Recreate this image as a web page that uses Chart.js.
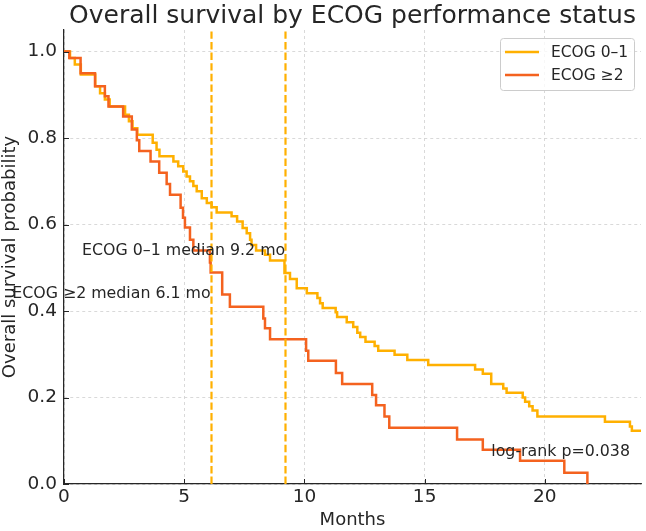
<!DOCTYPE html>
<html>
<head>
<meta charset="utf-8">
<script src="https://cdn.jsdelivr.net/npm/chart.js@4"></script>
<style>
  html, body { margin: 0; padding: 0; background: #fff; }
</style>
</head>
<body>
<canvas id="km" width="646" height="531"></canvas>
<script>
// groups and Kaplan-Meier steps (time in months, survival after the drop)
const groups = ["ECOG 0–1", "ECOG ≥2"];

const ecog01Time = [0, 0.25, 0.45, 0.7, 1.3, 1.5, 1.7, 1.9, 2.54, 2.7, 2.85, 3.05, 3.69, 3.85, 3.97,
  4.55, 4.75, 4.96, 5.1, 5.24, 5.38, 5.52, 5.73, 5.94, 6.14, 6.35, 6.97, 7.2, 7.43, 7.6, 7.74, 7.8,
  7.99, 8.36, 8.57, 9.17, 9.4, 9.68, 10.1, 10.54, 10.65, 10.76, 11.3, 11.36, 11.76, 12.03, 12.2,
  12.32, 12.54, 12.92, 13.07, 13.75, 14.28, 15.15, 17.1, 17.42, 17.77, 18.27, 18.41, 19.08, 19.18,
  19.35, 19.49, 19.69, 22.5, 23.54, 23.62, 24];
const ecog01Surv = [1.0, 0.985, 0.97, 0.947, 0.92, 0.904, 0.889, 0.873, 0.854, 0.839, 0.823, 0.808, 0.789, 0.773, 0.758,
  0.746, 0.735, 0.723, 0.711, 0.70, 0.689, 0.677, 0.661, 0.65, 0.64, 0.628, 0.619, 0.607, 0.592, 0.58, 0.565, 0.553,
  0.54, 0.53, 0.517, 0.488, 0.474, 0.453, 0.441, 0.43, 0.418, 0.407, 0.397, 0.386, 0.374, 0.363, 0.35,
  0.34, 0.329, 0.319, 0.308, 0.299, 0.287, 0.275, 0.265, 0.255, 0.231, 0.221, 0.211, 0.2, 0.19,
  0.18, 0.17, 0.156, 0.144, 0.133, 0.123, 0.123];

const ecog2Time = [0, 0.22, 0.69, 1.29, 1.7, 1.85, 2.46, 2.82, 3.03, 3.13, 3.6, 3.96, 4.27, 4.41, 4.85,
  4.95, 5.03, 5.24, 5.38, 6.07, 6.1, 6.58, 6.9, 8.29, 8.36, 8.57, 10.07, 10.16, 11.31, 11.57, 12.82,
  12.98, 13.33, 13.53, 16.35, 17.42, 18.97, 20.81, 21.77];
const ecog2Surv = [1.0, 0.985, 0.95, 0.92, 0.897, 0.873, 0.85, 0.82, 0.795, 0.77, 0.746, 0.72, 0.694, 0.669, 0.639,
  0.616, 0.593, 0.565, 0.54, 0.512, 0.489, 0.438, 0.41, 0.383, 0.36, 0.335, 0.308, 0.285, 0.257, 0.231, 0.206,
  0.182, 0.156, 0.13, 0.103, 0.079, 0.054, 0.026, 0.0];

const medians = [9.2, 6.1];
const pValue = 0.038;

const xTicks = [0, 5, 10, 15, 20];
const yTicks = [0, 0.2, 0.4, 0.6, 0.8, 1.0];

const FONT = "'DejaVu Sans', sans-serif";
const TEXT = "#262626";
const lineColors = ["#FFB000", "#F4621F"];

function toPoints(t, s) {
  return t.map((v, i) => ({ x: v, y: s[i] }));
}

// median lines, text notes, legend, title, inward ticks
const extras = {
  id: "extras",
  afterDatasetsDraw(chart) {
    const ctx = chart.ctx;
    const x = chart.scales.x, y = chart.scales.y;
    const area = chart.chartArea;

    ctx.save();
    ctx.strokeStyle = lineColors[0];
    ctx.lineWidth = 2.2;
    ctx.setLineDash([7.4, 3.2]);
    medians.forEach(m => {
      const px = Math.round(x.getPixelForValue(m)) + 0.5;
      ctx.beginPath();
      ctx.moveTo(px, area.bottom);
      ctx.lineTo(px, area.top);
      ctx.stroke();
    });
    ctx.restore();

    // notes
    ctx.save();
    ctx.fillStyle = TEXT;
    ctx.font = "15.8px " + FONT;
    ctx.textAlign = "right";
    ctx.textBaseline = "middle";
    const noteY = [0.54, 0.44];
    medians.forEach((m, i) => {
      ctx.fillText(groups[i] + " median " + m.toFixed(1) + " mo",
        x.getPixelForValue(m), y.getPixelForValue(noteY[i]));
    });
    ctx.fillText("log-rank p=" + pValue.toFixed(3), x.getPixelForValue(23.54), y.getPixelForValue(0.074));
    ctx.restore();

    // legend
    ctx.save();
    const bw = 134, bh = 52;
    const bx = area.right - 7 - bw, by = area.top + 8;
    ctx.fillStyle = "rgba(255,255,255,0.8)";
    ctx.strokeStyle = "#cccccc";
    ctx.lineWidth = 1;
    ctx.beginPath();
    ctx.roundRect(bx + 0.5, by + 0.5, bw, bh, 3);
    ctx.fill();
    ctx.stroke();
    ctx.font = "15.5px " + FONT;
    ctx.textBaseline = "middle";
    ctx.fillStyle = TEXT;
    chart.data.datasets.forEach((ds, i) => {
      const ly = by + 14 + i * 23;
      ctx.strokeStyle = ds.borderColor;
      ctx.lineWidth = 2.5;
      ctx.beginPath();
      ctx.moveTo(bx + 5, ly);
      ctx.lineTo(bx + 39, ly);
      ctx.stroke();
      ctx.fillText(ds.label, bx + 51, ly + 1);
    });
    ctx.restore();
  },
  afterDraw(chart) {
    const ctx = chart.ctx;
    const x = chart.scales.x, y = chart.scales.y;
    const area = chart.chartArea;
    ctx.save();
    ctx.strokeStyle = TEXT;
    ctx.lineWidth = 1;
    xTicks.forEach(v => {
      const px = Math.round(x.getPixelForValue(v)) + 0.5;
      ctx.beginPath();
      ctx.moveTo(px, area.bottom);
      ctx.lineTo(px, area.bottom - 5);
      ctx.stroke();
    });
    yTicks.forEach(v => {
      const py = Math.round(y.getPixelForValue(v)) + 0.5;
      ctx.beginPath();
      ctx.moveTo(area.left, py);
      ctx.lineTo(area.left + 5, py);
      ctx.stroke();
    });
    ctx.fillStyle = TEXT;
    ctx.font = "25px " + FONT;
    ctx.textAlign = "center";
    ctx.textBaseline = "alphabetic";
    ctx.fillText("Overall survival by ECOG performance status", (area.left + area.right) / 2, 23);
    ctx.restore();
  }
};

const ctx = document.getElementById("km").getContext("2d");
const myChart = new Chart(ctx, {
  type: "line",
  data: {
    datasets: [
      {
        label: groups[0],
        data: toPoints(ecog01Time, ecog01Surv),
        borderColor: lineColors[0],
        borderWidth: 2.5,
        stepped: "before",
        pointRadius: 0,
        order: 1
      },
      {
        label: groups[1],
        data: toPoints(ecog2Time, ecog2Surv),
        borderColor: lineColors[1],
        borderWidth: 2.5,
        stepped: "before",
        pointRadius: 0,
        order: 0
      }
    ]
  },
  options: {
    responsive: false,
    animation: false,
    layout: { padding: { top: 30, right: 5, left: 0, bottom: 0 } },
    plugins: {
      legend: { display: false },
      tooltip: { enabled: false }
    },
    scales: {
      x: {
        type: "linear",
        min: 0,
        max: 24,
        afterBuildTicks: s => { s.ticks = xTicks.map(v => ({ value: v })); },
        afterFit: s => { s.height = 47; },
        ticks: {
          color: TEXT,
          font: { family: FONT, size: 18.5 },
          padding: 2,
          maxRotation: 0
        },
        grid: { color: "#d0d0d0", lineWidth: 0.8, drawTicks: false },
        border: { color: TEXT, width: 1.25, dash: [3, 3] },
        title: {
          display: true,
          text: "Months",
          color: TEXT,
          font: { family: FONT, size: 18 },
          padding: { top: 0, bottom: 0 }
        }
      },
      y: {
        type: "linear",
        min: 0,
        max: 1.05,
        afterBuildTicks: s => { s.ticks = yTicks.map(v => ({ value: v })); },
        afterFit: s => { s.width = 64; },
        ticks: {
          color: TEXT,
          font: { family: FONT, size: 18.5 },
          padding: 7,
          callback: v => v.toFixed(1)
        },
        grid: { color: "#d0d0d0", lineWidth: 0.8, drawTicks: false },
        border: { color: TEXT, width: 1.25, dash: [3, 3] },
        title: {
          display: true,
          text: "Overall survival probability",
          color: TEXT,
          font: { family: FONT, size: 18 },
          padding: { top: 0, bottom: 0 }
        }
      }
    }
  },
  plugins: [extras]
});
</script>
</body>
</html>
